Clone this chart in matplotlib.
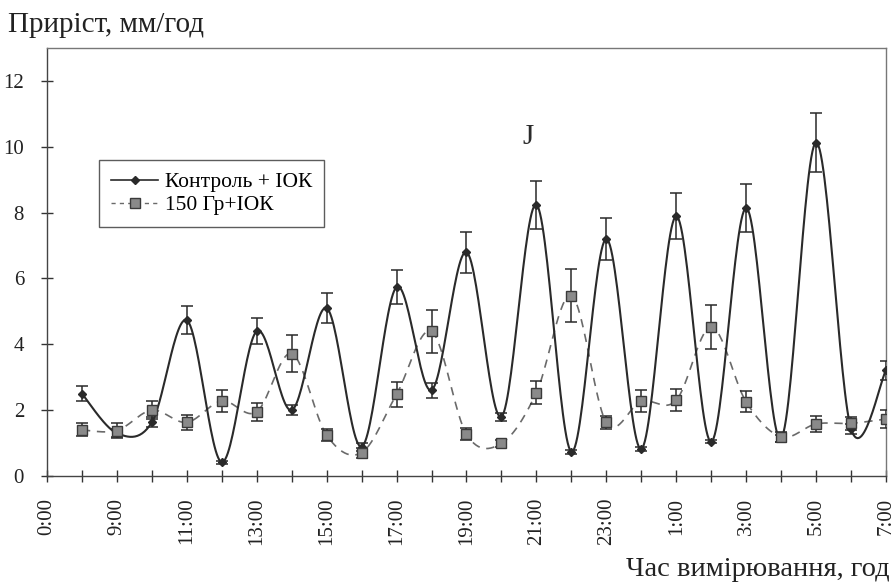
import numpy as np
import matplotlib.pyplot as plt

plt.rcParams['font.family'] = ['Liberation Serif', 'DejaVu Serif']

# Підписи осі часу (кожна друга поділка)
time_labels = ['0:00', '9:00', '11:00', '13:00', '15:00', '17:00', '19:00',
               '21:00', '23:00', '1:00', '3:00', '5:00', '7:00']

# Вимірювання з 8:00 до 7:00 наступної доби
control = [2.50, 1.30, 1.63, 4.73, 0.42, 4.40, 2.00, 5.10, 0.89, 5.74, 2.61, 6.80,
           1.80, 8.24, 0.74, 7.20, 0.82, 7.89, 1.04, 8.14, 1.14, 10.13, 1.44, 3.21]
control_err = [0.23, 0.12, 0.15, 0.42, 0.05, 0.40, 0.15, 0.45, 0.12, 0.52, 0.23, 0.62,
               0.12, 0.73, 0.06, 0.63, 0.05, 0.70, 0.05, 0.73, 0.12, 0.90, 0.15, 0.28]
gy150 = [1.40, 1.38, 2.00, 1.63, 2.28, 1.95, 3.72, 1.24, 0.71, 2.48, 4.39, 1.27,
         0.99, 2.53, 5.48, 1.63, 2.27, 2.30, 4.53, 2.25, 1.19, 1.58, 1.60, 1.73]
gy150_err = [0.20, 0.22, 0.27, 0.23, 0.33, 0.28, 0.55, 0.18, 0.15, 0.37, 0.65, 0.18,
             0.10, 0.35, 0.80, 0.20, 0.33, 0.33, 0.67, 0.32, 0.15, 0.23, 0.20, 0.28]


def smooth(x, y, n=30):
    # згладжена лінія як в Excel (сплайн Катмулла-Рома через кубічні Безьє)
    x = np.asarray(x, float)
    y = np.asarray(y, float)
    px = np.concatenate([[x[0]], x, [x[-1]]])
    py = np.concatenate([[y[0]], y, [y[-1]]])
    t = np.linspace(0, 1, n)[:, None]
    xs, ys = [], []
    for i in range(1, len(px) - 2):
        p0 = np.array([px[i], py[i]])
        p3 = np.array([px[i + 1], py[i + 1]])
        p1 = p0 + (p3 - np.array([px[i - 1], py[i - 1]])) / 6
        p2 = p3 - (np.array([px[i + 2], py[i + 2]]) - p0) / 6
        b = ((1 - t) ** 3 * p0 + 3 * (1 - t) ** 2 * t * p1
             + 3 * (1 - t) * t ** 2 * p2 + t ** 3 * p3)
        xs.append(b[:, 0])
        ys.append(b[:, 1])
    return np.concatenate(xs), np.concatenate(ys)


x = np.arange(1, len(control) + 1)

fig = plt.figure(figsize=(8.95, 5.87), dpi=100)
ax = fig.add_axes([0.0525, 0.1891, 0.9374, 0.7291])

dark = '#2a2a2a'
grey = '#6a6a6a'

# Контроль
sx, sy = smooth(x, control)
ax.plot(sx, sy, color=dark, lw=1.5, zorder=3)
ax.errorbar(x, control, yerr=control_err, fmt='none', ecolor=dark,
            elinewidth=1.1, capsize=4, capthick=1.1, zorder=4)
ax.plot(x, control, linestyle='none', marker='D', ms=4.5, color=dark, zorder=5)

# 150 Гр
sx, sy = smooth(x, gy150)
ax.plot(sx, sy, color=grey, lw=1.2, dashes=(5, 4), zorder=2)
ax.errorbar(x, gy150, yerr=gy150_err, fmt='none', ecolor=dark,
            elinewidth=1.1, capsize=4, capthick=1.1, zorder=4)
ax.plot(x, gy150, linestyle='none', marker='s', ms=7.5, color='#8a8a8a',
        markeredgecolor='#3a3a3a', markeredgewidth=1.0, zorder=5)

# легенда
h1, = ax.plot([], [], color=dark, lw=1.2, marker='D', ms=4)
h2, = ax.plot([], [], color=grey, lw=1.0, dashes=(3, 3), marker='s', ms=6.5,
              markerfacecolor='#8a8a8a', markeredgecolor='#3a3a3a')
leg = ax.legend([h1, h2], ['Контроль + ІОК', '150 Гр+ІОК'],
                loc='upper left', bbox_to_anchor=(0.062, 0.738), borderaxespad=0,
                fontsize=15.5, frameon=True, fancybox=False, handlelength=2.2,
                handletextpad=0.3, borderpad=0.55, labelspacing=0.15)
leg.get_frame().set_edgecolor('#333333')
leg.get_frame().set_linewidth(1.0)

ax.text(13.75, 10.3, 'J', fontsize=21, color=dark, ha='center', va='center')

ax.set_xlim(0, 24)
ax.set_ylim(0, 13)
ax.set_yticks(np.arange(0, 13, 2))
ax.set_xticks(np.arange(0, 25))
ax.set_xticklabels([time_labels[i // 2] if i % 2 == 0 else '' for i in range(25)],
                   rotation=90)
ax.tick_params(axis='both', direction='inout', length=9, width=1.0,
               color='#333333', labelsize=15, labelcolor='#222222')
ax.tick_params(axis='x', pad=11)
ax.tick_params(axis='y', pad=12)
for s in ax.spines.values():
    s.set_color('#444444')
    s.set_linewidth(1.0)
ax.spines['top'].set_color('#777777')
ax.spines['right'].set_color('#777777')

fig.text(0.009, 1 - 25 / 587, 'Приріст, мм/год', fontsize=21, color='#222222',
         ha='left', va='center')
fig.text(0.994, 1 - 569 / 587, 'Час вимірювання, год', fontsize=20.5,
         color='#222222', ha='right', va='center')

fig.savefig('out.png', dpi=100)
